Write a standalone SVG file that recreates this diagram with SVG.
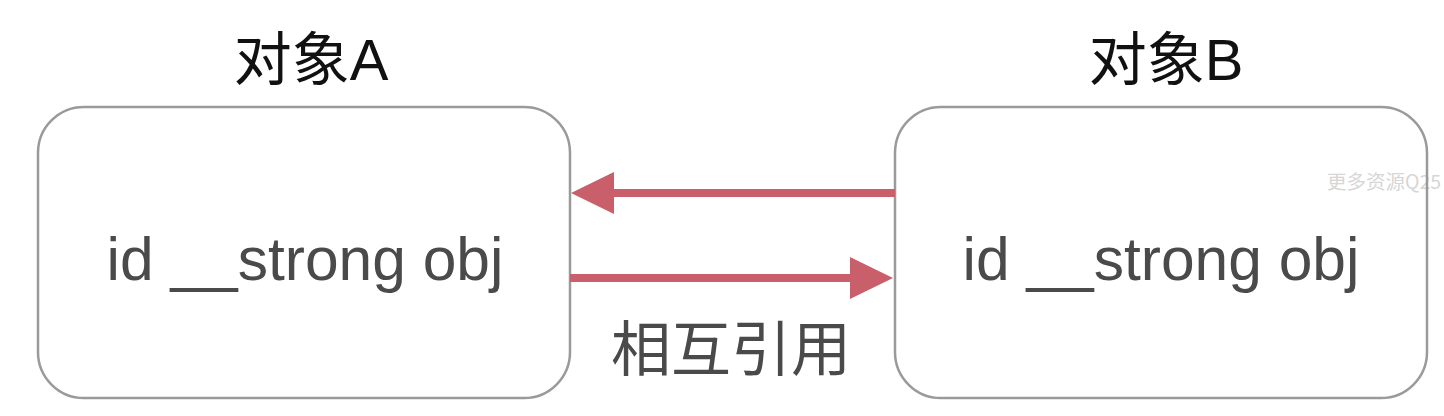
<svg xmlns="http://www.w3.org/2000/svg" width="1444" height="416" viewBox="0 0 1444 416">
<style>
.box{fill:#fff;stroke:#9a9a9a;stroke-width:2.5}
.title{font-family:"Liberation Sans","Noto Sans CJK SC",sans-serif;font-size:58px;fill:#111;text-anchor:middle}
.body{font-family:"Liberation Sans","Noto Sans CJK SC",sans-serif;font-size:60.5px;fill:#4a4a4a;text-anchor:middle}
.label{font-family:"Noto Sans CJK SC",sans-serif;font-size:60px;fill:#4a4a4a;text-anchor:middle}
.conn{stroke:#c95f6a;stroke-width:8;fill:none}
.head{fill:#c95f6a}
.wm{font-family:"Noto Sans CJK SC",sans-serif;font-size:19.5px;fill:#d6d6d6}
</style>
<rect width="1444" height="416" fill="#fff"/>
<text class="wm" x="1327" y="189">更多资源Q25</text>
<g id="nodeA">
<text class="title" x="311" y="80">对象A</text>
<rect class="box" x="38" y="107" width="532" height="291" rx="46" ry="46"/>
<text class="body" x="305" y="280">id __strong obj</text>
</g>
<g id="nodeB">
<text class="title" x="1166" y="80">对象B</text>
<rect class="box" x="895" y="107" width="532" height="291" rx="46" ry="46" fill-opacity="0"/>
<text class="body" x="1161" y="280">id __strong obj</text>
</g>
<g id="connectors">
<line class="conn" x1="895" y1="193" x2="610" y2="193"/>
<polygon class="head" points="571,193 614,172 614,214"/>
<line class="conn" x1="570" y1="278" x2="855" y2="278"/>
<polygon class="head" points="893,278 850,257 850,299"/>
<text class="label" x="731" y="371">相互引用</text>
</g>
</svg>
